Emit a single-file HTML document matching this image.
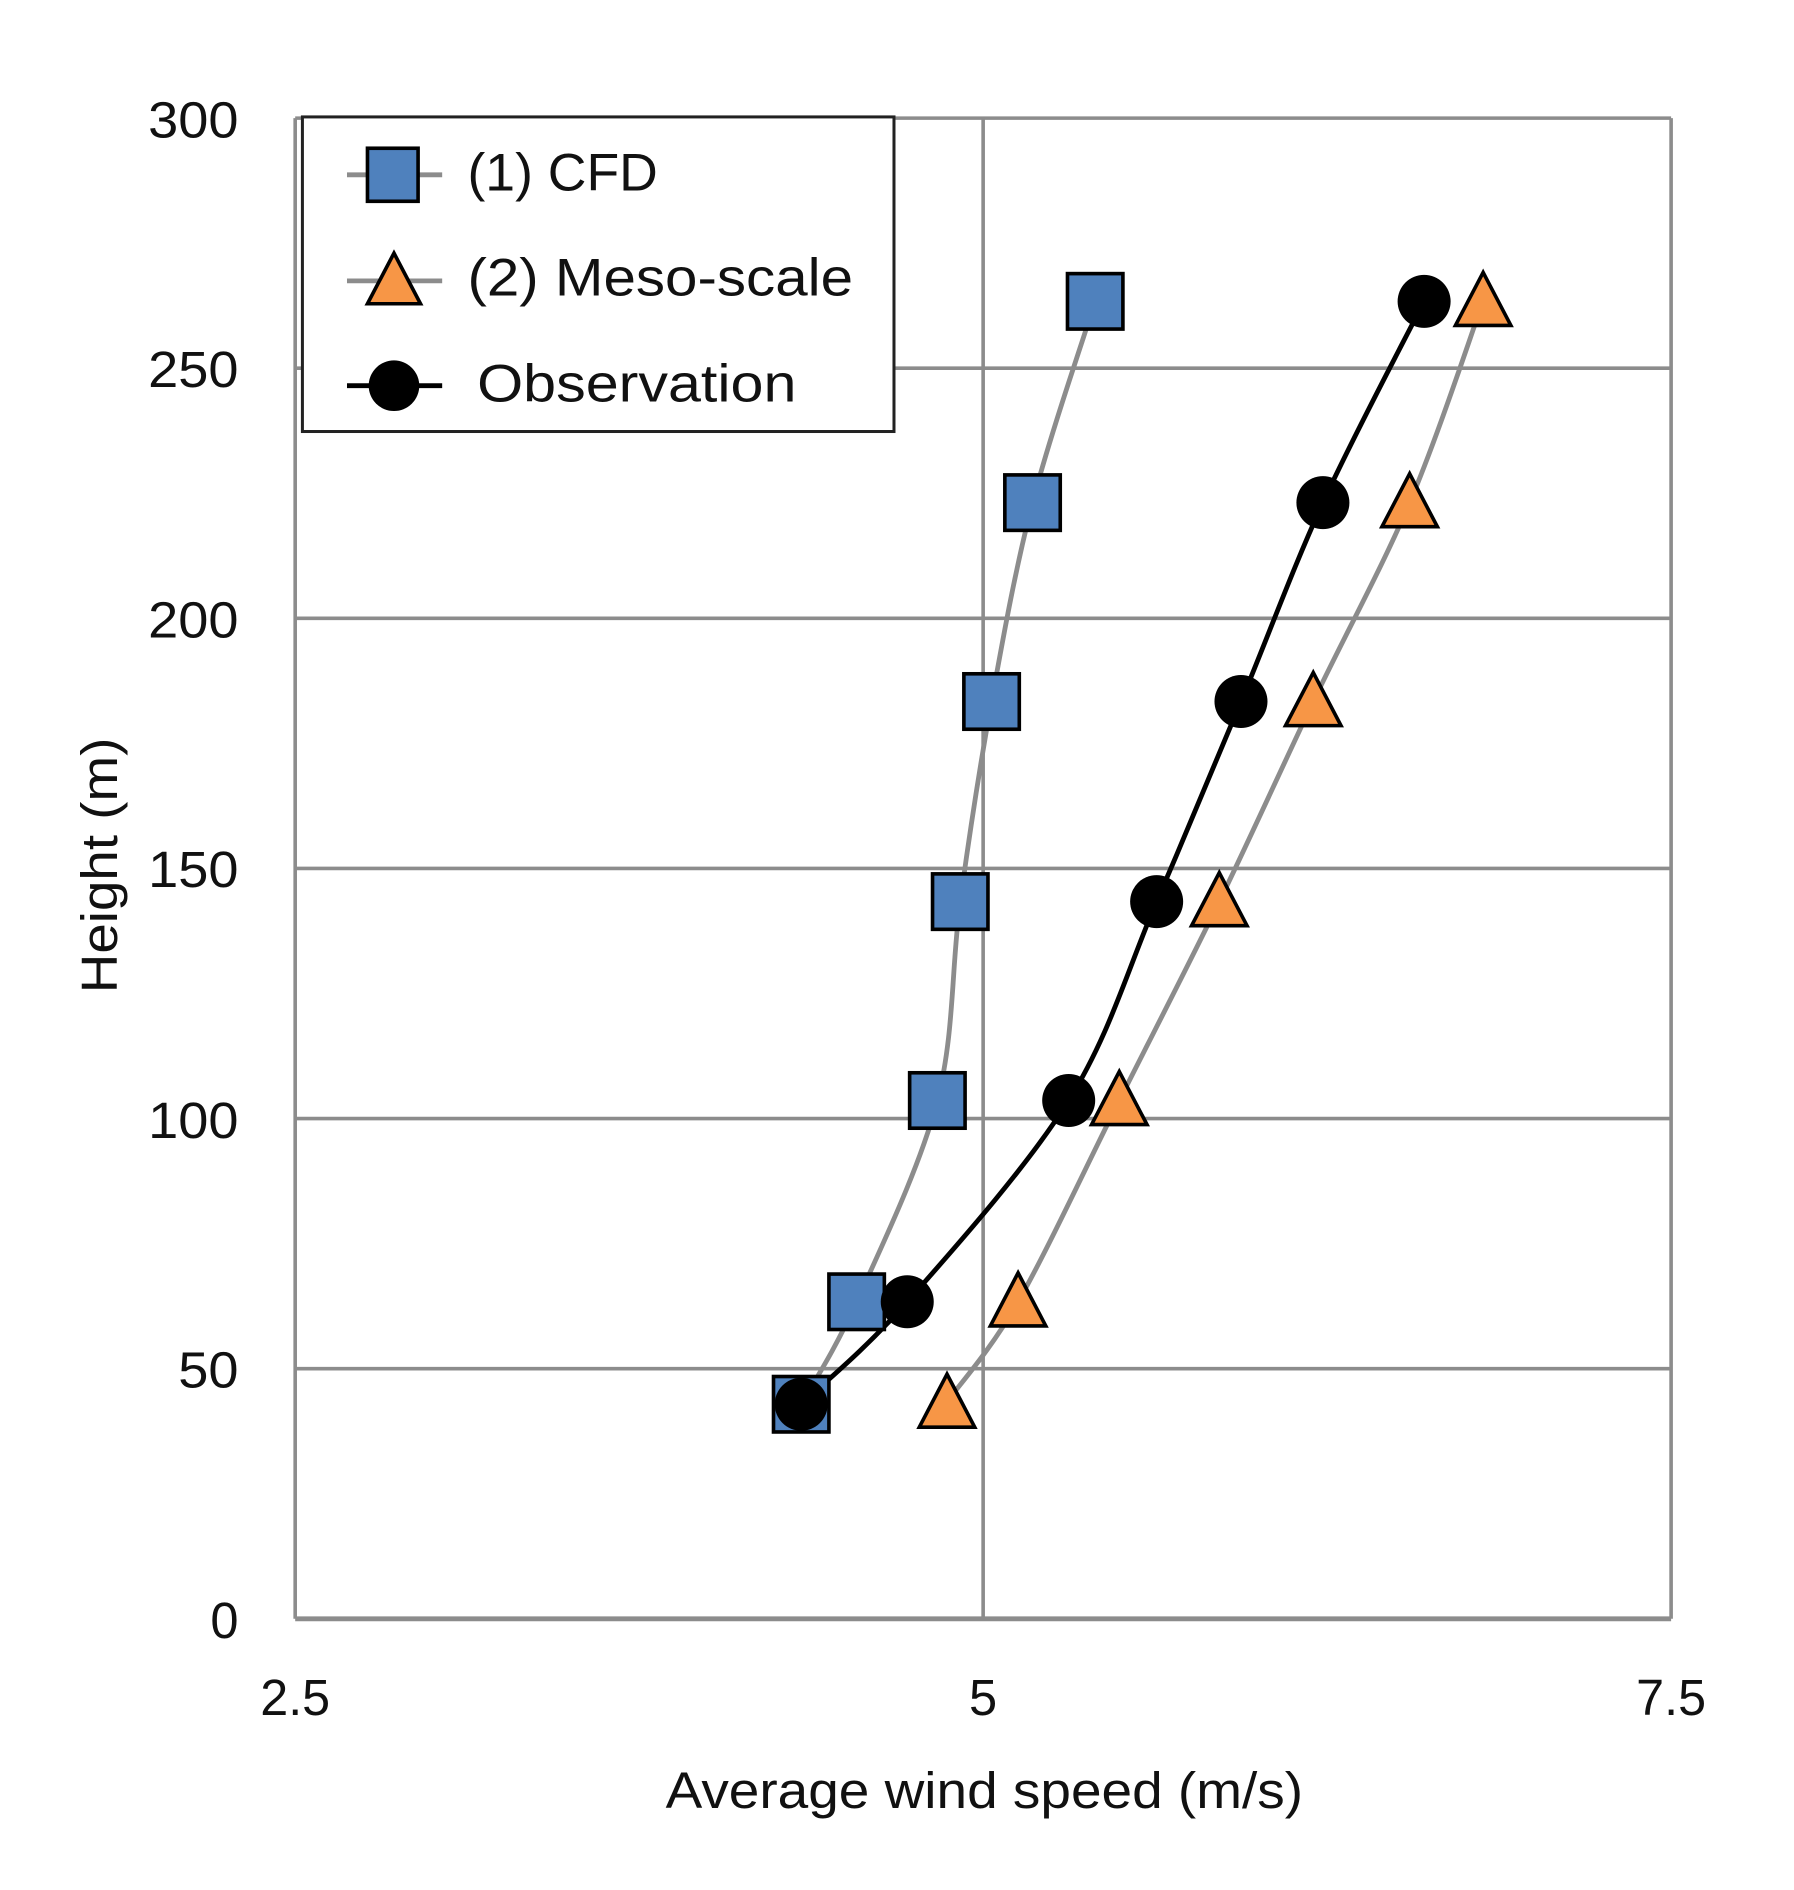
<!DOCTYPE html>
<html><head><meta charset="utf-8"><style>html,body{margin:0;padding:0;background:#fff}svg{display:block}</style></head>
<body>
<svg width="1794" height="1890" viewBox="0 0 1489 1568" preserveAspectRatio="none" xmlns="http://www.w3.org/2000/svg" font-family="Liberation Sans, sans-serif">
<g stroke="#8c8c8c" stroke-width="3" fill="none">
<line x1="245" y1="98" x2="1387" y2="98"/>
<line x1="245" y1="305.5" x2="1387" y2="305.5"/>
<line x1="245" y1="513" x2="1387" y2="513"/>
<line x1="245" y1="720.5" x2="1387" y2="720.5"/>
<line x1="245" y1="928" x2="1387" y2="928"/>
<line x1="245" y1="1135.5" x2="1387" y2="1135.5"/>
<line x1="245" y1="98" x2="245" y2="1343"/>
<line x1="816" y1="98" x2="816" y2="1343"/>
<line x1="1387" y1="98" x2="1387" y2="1343"/>
<line x1="245" y1="1343" x2="1387" y2="1343" stroke-width="4"/>
</g>
<g font-size="42" fill="#111" text-anchor="end">
<text x="198" y="114" textLength="75" lengthAdjust="spacingAndGlyphs">300</text>
<text x="198" y="321" textLength="75" lengthAdjust="spacingAndGlyphs">250</text>
<text x="198" y="529" textLength="75" lengthAdjust="spacingAndGlyphs">200</text>
<text x="198" y="736" textLength="75" lengthAdjust="spacingAndGlyphs">150</text>
<text x="198" y="944" textLength="75" lengthAdjust="spacingAndGlyphs">100</text>
<text x="198" y="1151" textLength="50" lengthAdjust="spacingAndGlyphs">50</text>
<text x="198" y="1359">0</text>
</g>
<g font-size="42" fill="#111" text-anchor="middle">
<text x="245" y="1423" textLength="58" lengthAdjust="spacingAndGlyphs">2.5</text>
<text x="816" y="1423">5</text>
<text x="1387" y="1423" textLength="58" lengthAdjust="spacingAndGlyphs">7.5</text>
<text x="817" y="1500" textLength="529" lengthAdjust="spacingAndGlyphs">Average wind speed (m/s)</text>
</g>
<text transform="translate(97,718) rotate(-90)" font-size="42" fill="#111" text-anchor="middle" textLength="212" lengthAdjust="spacingAndGlyphs">Height (m)</text>
<path fill="none" stroke="#8c8c8c" stroke-width="4" d="M909,250 C900.3,277.8 871.3,361.7 857,417 C842.7,472.3 833,526.8 823,582 C813,637.2 804.5,692.8 797,748 C789.5,803.2 792.3,857.7 778,913 C763.7,968.3 729.8,1038 711,1080 C692.2,1122 672.7,1150.8 665,1165"/>
<path fill="none" stroke="#8c8c8c" stroke-width="4" d="M1231,250 C1220.8,277.8 1193.5,361.7 1170,417 C1146.5,472.3 1116.3,526.8 1090,582 C1063.7,637.2 1038.8,692.8 1012,748 C985.2,803.2 956.8,857.7 929,913 C901.2,968.3 868.8,1038.3 845,1080 C821.2,1121.7 795.8,1149.2 786,1163"/>
<path fill="none" stroke="#000" stroke-width="4" d="M1182,250 C1168,277.8 1123.3,361.7 1098,417 C1072.7,472.3 1053,526.8 1030,582 C1007,637.2 983.8,692.8 960,748 C936.2,803.2 921.5,857.7 887,913 C852.5,968.3 790,1038 753,1080 C716,1122 679.7,1150.8 665,1165"/>
<g fill="#4f81bd" stroke="#000" stroke-width="3">
<rect x="886" y="227" width="46" height="46"/><rect x="834" y="394" width="46" height="46"/>
<rect x="800" y="559" width="46" height="46"/><rect x="774" y="725" width="46" height="46"/>
<rect x="755" y="890" width="46" height="46"/><rect x="688" y="1057" width="46" height="46"/>
<rect x="642" y="1142" width="46" height="46"/>
</g>
<g fill="#f79646" stroke="#000" stroke-width="3">
<polygon points="1231,226 1254,270 1208,270"/><polygon points="1170,393 1193,437 1147,437"/>
<polygon points="1090,558 1113,602 1067,602"/><polygon points="1012,724 1035,768 989,768"/>
<polygon points="929,889 952,933 906,933"/><polygon points="845,1056 868,1100 822,1100"/>
<polygon points="786,1140 809,1184 763,1184"/>
</g>
<g fill="#000">
<circle cx="1182" cy="250" r="22"/><circle cx="1098" cy="417" r="22"/><circle cx="1030" cy="582" r="22"/>
<circle cx="960" cy="748" r="22"/><circle cx="887" cy="913" r="22"/><circle cx="753" cy="1080" r="22"/>
<circle cx="665" cy="1165" r="22"/>
</g>
<rect x="251" y="97" width="491" height="261" fill="#fff" stroke="#222" stroke-width="2.5"/>
<line x1="288" y1="145" x2="367" y2="145" stroke="#8c8c8c" stroke-width="4"/>
<rect x="305" y="123" width="42" height="44" fill="#4f81bd" stroke="#000" stroke-width="3"/>
<line x1="288" y1="233" x2="367" y2="233" stroke="#8c8c8c" stroke-width="4"/>
<polygon points="327,210 349,252 305,252" fill="#f79646" stroke="#000" stroke-width="3"/>
<line x1="288" y1="320" x2="367" y2="320" stroke="#000" stroke-width="4"/>
<circle cx="327" cy="320" r="21" fill="#000"/>
<g font-size="44" fill="#111">
<text x="388" y="158" textLength="158" lengthAdjust="spacingAndGlyphs">(1) CFD</text>
<text x="388" y="245" textLength="320" lengthAdjust="spacingAndGlyphs">(2) Meso-scale</text>
<text x="396" y="333" textLength="265" lengthAdjust="spacingAndGlyphs">Observation</text>
</g>
</svg>
</body></html>
